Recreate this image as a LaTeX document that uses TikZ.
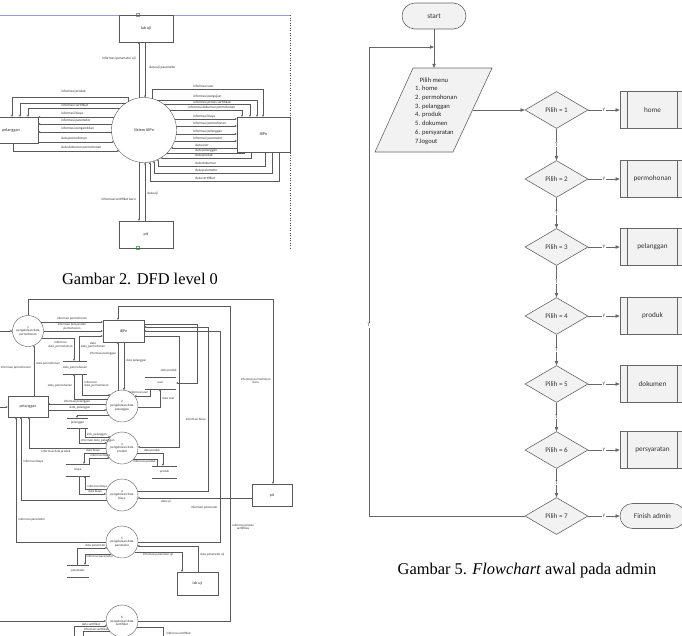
\documentclass[tikz,border=0pt]{standalone}
\usepackage{fontspec}
\setmainfont{Liberation Serif}
\newfontfamily\fcal{Carlito}
\usetikzlibrary{arrows.meta,shapes.geometric}
\begin{document}
\begin{tikzpicture}[x=1pt,y=-1pt,
  ln/.style={draw=black!65,line width=0.35pt},
  ar/.style={ln,-{Triangle[length=1.9pt,width=1.7pt]}},
  lb/.style={font=\fcal\fontsize{3.5}{3.9}\selectfont,text=black!80,inner sep=0.2pt},
  lbs/.style={font=\fcal\fontsize{3.2}{3.6}\selectfont,text=black!80,inner sep=0.2pt},
  ent/.style={draw=black!65,line width=0.4pt,inner sep=0,font=\fcal\fontsize{4.2}{5}\selectfont,text=black!80},
  proc/.style={circle,draw=black!65,line width=0.4pt,inner sep=0,align=center,font=\fcal\fontsize{3.3}{3.8}\selectfont,text=black!80},
  store/.style={inner sep=0,font=\fcal\fontsize{3.2}{4}\selectfont,text=black!80,
    append after command={(\tikzlastnode.north west) edge[ln] (\tikzlastnode.north east)
      (\tikzlastnode.south west) edge[ln] (\tikzlastnode.south east)}},
  fl/.style={draw=black!60,line width=0.6pt},
  fa/.style={fl,-{Triangle[length=4.2pt,width=3.4pt]}},
  term/.style={fl,fill=black!5,rounded corners=13pt,minimum width=64pt,minimum height=26pt,inner sep=0,
    font=\fcal\fontsize{7.2}{8.5}\selectfont,text=black!80},
  dec/.style={diamond,fl,fill=black!5,minimum width=63pt,minimum height=37pt,inner sep=0,aspect=1.7,
    font=\fcal\fontsize{7}{8}\selectfont,text=black!80},
  pp/.style={fl,fill=black!5,minimum width=65pt,minimum height=37pt,inner sep=0,
    font=\fcal\fontsize{7.2}{8.5}\selectfont,text=black!80,
    append after command={([xshift=8pt]\tikzlastnode.north west) edge[fl] ([xshift=8pt]\tikzlastnode.south west)
      ([xshift=-8pt]\tikzlastnode.north east) edge[fl] ([xshift=-8pt]\tikzlastnode.south east)}},
  yt/.style={font=\fcal\fontsize{5.2}{6}\selectfont,fill=white,inner sep=0.8pt,text=black!75},
  mt/.style={font=\fcal\fontsize{6.6}{8}\selectfont,inner sep=0,text=black!85},
  capt/.style={font=\fontsize{16.4}{19}\selectfont}
]
\fill[white] (0,0) rectangle (682,635);
\useasboundingbox (0,0) rectangle (682,635);

% ================= DFD level 0 =================
\draw[draw=blue!30!gray!60,line width=0.6pt] (0,15) -- (291,15);
\draw[draw=black!70,dotted,line width=0.5pt] (290.5,15) -- (290.5,248);
\draw[draw=blue!40!gray!60,line width=0.3pt] (136,13.5) rectangle (139,16.5);
\draw[draw=green!50!black!60,line width=0.3pt] (136,246.5) rectangle (139,249.5);

\node[ent,minimum width=54pt,minimum height=27pt] (lab0) at (146,28.5) {lab uji};
\node[ent,minimum width=54pt,minimum height=26pt] (plg0) at (11,130) {pelanggan};
\node[ent,minimum width=53pt,minimum height=35pt] (ibp0) at (263.5,134.5) {IBPn};
\node[ent,minimum width=54pt,minimum height=27pt] (pit0) at (146,234.5) {pit};
\node[proc,minimum size=65pt,font=\fcal\fontsize{4.2}{5}\selectfont] (sis0) at (144,130) {Sistem IBPn};

% top
\draw[ar] (139,97.9) -- (lab0.south -| 139,0);
\draw[ar] (lab0.south -| 145,0) -- (145,97.5);
\node[lb,anchor=east] at (136,59) {informasi parameter uji};
\node[lb,anchor=west] at (149,68) {data uji parameter};
% left
\draw[ar] (128,101.7) -- (128,97) -- (12,97) -- (plg0.north -| 12,0);
\node[lb,anchor=west] at (61,92) {informasi produk};
\draw[ar] (125.9,103) -- (20,103) -- (plg0.north -| 20,0);
\draw[ar] (120.1,108) -- (28,108) -- (plg0.north -| 28,0);
\node[lb,anchor=west] at (61,105.5) {informasi sertifikat};
\draw[ar] (114.2,117) -- (plg0.east |- 0,117);
\node[lb,anchor=west] at (61,114) {informasi biaya};
\draw[ar] (112.1,124) -- (plg0.east |- 0,124);
\node[lb,anchor=west] at (61,121) {informasi parameter};
\draw[ar] (111.6,132) -- (plg0.east |- 0,132);
\node[lb,anchor=west] at (61,129) {informasi pengambilan};
\draw[ar] (plg0.east |- 0,142) -- (113.8,142);
\node[lb,anchor=west] at (61,139) {data permohonan};
\draw[ar] (plg0.south -| 13,0) -- (13,151) -- (119.2,151);
\node[lb,anchor=west] at (61,148) {data dokumen permohonan};
% right
\draw[ar] (152,98.5) -- (152,89) -- (263,89) -- (ibp0.north -| 263,0);
\node[lb,anchor=west] at (193,86) {informasi user};
\draw[ar] (156.5,100) -- (257,100) -- (ibp0.north -| 257,0);
\node[lb,anchor=west] at (193,97) {informasi pengujian};
\draw[ar] (164.1,104.5) -- (250,104.5) -- (ibp0.north -| 250,0);
\node[lb,anchor=west] at (193,102.2) {informasi proses sertifikasi};
\draw[ar] (169.6,110) -- (242,110) -- (ibp0.north -| 242,0);
\node[lb,anchor=west] at (188,107.6) {informasi dokumen permohonan};
\draw[ar] (174.6,119) -- (ibp0.west |- 0,119);
\node[lb,anchor=west] at (193,116.5) {informasi biaya};
\draw[ar] (176.3,126) -- (ibp0.west |- 0,126);
\node[lb,anchor=west] at (193,123.5) {informasi permohonan};
\draw[ar] (176.3,134) -- (ibp0.west |- 0,134);
\node[lb,anchor=west] at (193,131.5) {informasi pelanggan};
\draw[ar] (174.6,141) -- (ibp0.west |- 0,141);
\node[lb,anchor=west] at (193,138.5) {informasi parameter};
\draw[ar] (ibp0.west |- 0,148) -- (171.1,148);
\node[lb,anchor=west] at (195,145.5) {data user};
\draw[ar] (ibp0.south -| 244,0) -- (244,153.5) -- (166.4,153.5);
\node[lb,anchor=west] at (195,151) {data pelanggan};
\draw[ar] (ibp0.south -| 251,0) -- (251,158) -- (160.5,158);
\node[lb,anchor=west] at (195,155.8) {data produk};
\draw[ar] (ibp0.south -| 265,0) -- (265,166) -- (158,166) -- (158,159.3);
\node[lb,anchor=west] at (195,163.5) {data dokumen};
\draw[ar] (ibp0.south -| 272,0) -- (272,173) -- (154,173) -- (154,160.9);
\node[lb,anchor=west] at (195,170.5) {data parameter};
\draw[ar] (ibp0.south -| 279,0) -- (279,181) -- (150,181) -- (150,161.9);
\node[lb,anchor=west] at (195,178.5) {data sertifikat};
% bottom
\draw[ar] (139,162.1) -- (pit0.north -| 139,0);
\node[lb,anchor=east] at (136,199) {informasi sertifikat baru};
\draw[ar] (pit0.north -| 145,0) -- (145,162.5);
\node[lb,anchor=west] at (147,194) {data uji};

\node[capt] (cap0) at (140,279) {Gambar 2. DFD level 0};

% ================= DFD level 1 =================
\node[proc,minimum size=31pt] (p1) at (28,331) {1\\pengelolaan data\\permohonan};
\node[proc,minimum size=32pt] (p2) at (122,406) {2\\pengelolaan data\\pelanggan};
\node[proc,minimum size=32pt] (p3) at (122,448) {3\\pengelolaan data\\produk};
\node[proc,minimum size=32pt] (p4) at (122,495) {4\\pengelolaan data\\biaya};
\node[proc,minimum size=32pt] (p5) at (122,542) {5\\pengelolaan data\\parameter};
\node[proc,minimum size=32pt] (p6) at (122,621) {6\\pengelolaan data\\sertifikat};
\node[ent,minimum width=41pt,minimum height=22pt,font=\fcal\fontsize{4}{5}\selectfont] (ibp1) at (123.5,331) {IBPn};
\node[ent,minimum width=40pt,minimum height=21pt,font=\fcal\fontsize{4}{5}\selectfont] (plg1) at (28,406.5) {pelanggan};
\node[ent,minimum width=40pt,minimum height=22pt,font=\fcal\fontsize{4}{5}\selectfont] (pit1) at (272,495) {pit};
\node[ent,minimum width=41pt,minimum height=23pt,font=\fcal\fontsize{4}{5}\selectfont] (lab1) at (197.5,583.5) {lab uji};
\node[store,minimum width=24pt,minimum height=13pt] (sperm) at (75,367.5) {data\_permohonan};
\node[store,minimum width=21pt,minimum height=10pt] (spel) at (77.5,423) {pelanggan};
\node[store,minimum width=31pt,minimum height=12pt] (suser) at (160.5,383) {user};
\node[store,minimum width=24pt,minimum height=12pt] (sbiaya) at (78,470) {biaya};
\node[store,minimum width=25pt,minimum height=12pt] (sprod) at (164.5,472) {produk};
\node[store,minimum width=22pt,minimum height=12pt] (sparam) at (78,571) {parameter};

% long frame lines
\draw[ar] (p1.north) -- (28,299) -- (273,299) -- (pit1.north -| 273,0);
\node[lbs,anchor=east,align=center] at (271,381) {informasi permohonan\\baru};
\draw[ar] (p6.east) -- (230,621) -- (230,306) -- (118,306) -- (ibp1.north -| 118,0);
\node[lbs,anchor=west,align=center] at (232,527) {informasi proses\\sertifikasi};
\draw[ar] (-5,621) -- (p6.west);
% process 1
\draw[ar] (-5,331) -- (p1.west);
\draw[ar] (-5,407) -- (plg1.west |- 0,407);
\node[lbs,anchor=west] at (0.5,368) {informasi permohonan};
\draw[ar] (40.6,322) -- (ibp1.west |- 0,322);
\node[lbs] at (72,318.8) {informasi permohonan};
\draw[ar] (p1.east) -- (ibp1.west |- p1.east);
\node[lbs,align=center] at (72,326.6) {informasi persyaratan\\permohonan};
\draw[ar] (41.8,338) -- (74,338) -- (sperm.north -| 74,0);
\node[lbs,anchor=east,align=center] at (73,344.5) {informasi\\data\_permohonan};
\draw[ar] (sperm.north -| 79,0) -- (79,336) -- (ibp1.west |- 0,336);
\node[lbs,anchor=west,align=center] at (80.5,345.2) {data\\data\_permohonan};
\draw[ar] (plg1.north -| 34,0) -- (34,345.3);
\node[lbs,anchor=west] at (36,364) {data permohonan};
% process 2
\draw[ar] (118,390.5) -- (ibp1.south -| 118,0);
\node[lbs,anchor=east] at (116.5,354) {informasi pelanggan};
\draw[ar] (ibp1.south -| 124,0) -- (124,390.1);
\node[lbs,anchor=west] at (126,361) {data pelanggan};
\draw[ar] (107.6,399) -- (74,399) -- (sperm.south -| 74,0);
\node[lbs,anchor=east] at (72.5,386) {data\_permohonan};
\draw[ar] (sperm.south -| 82,0) -- (82,395) -- (110.4,395);
\node[lbs,anchor=west,align=left] at (84,384) {informasi\\data\_permohonan};
\draw[ar] (106.1,404) -- (plg1.east |- 0,404);
\node[lbs] at (77,401.6) {informasi pelanggan};
\draw[ar] (plg1.east |- 0,410) -- (106.5,410);
\node[lbs] at (80,407.3) {data\_pelanggan};
\draw[ar] (108.8,415) -- (77,415) -- (spel.north -| 77,0);
\draw[ar] (spel.south -| 85,0) -- (85,437) -- (110.4,437);
\node[lbs,anchor=south west] at (86.5,436.6) {info\_pelanggan};
\draw[ar] (spel.south -| 79,0) -- (79,443) -- (106.8,443);
\node[lbs,anchor=south west] at (80.5,442.6) {informasi data\_pelanggan};
\draw[ar] (138,407) -- (160,407) -- (suser.south -| 160,0);
\node[lbs,anchor=west] at (162,398) {data user};
\draw[ar] (suser.south -| 150,0) -- (150,396) -- (134.5,396);
\node[lbs,anchor=east] at (148.5,392.5) {informasi user};
\draw[ar] (ibp1.east |- 0,324) -- (197,324) -- (197,383) -- (suser.east);
% process 3
\draw[ar] (ibp1.east |- 0,336) -- (179,336) -- (179,447) -- (138,447);
\node[lbs,anchor=east] at (177,371) {data produk};
\draw[ar] (106,448) -- (29,448) -- (plg1.south -| 29,0);
\node[lbs,anchor=north] at (56,449.4) {informasi data produk};
\draw[ar] (106.8,453) -- (84,453) -- (sbiaya.north -| 84,0);
\node[lbs,anchor=south west] at (86,452.6) {data biaya};
\draw[ar] (sbiaya.north -| 89,0) -- (89,458) -- (109.5,458);
\node[lbs,anchor=south west] at (90,457.6) {informasi biaya};
\draw[ar] (137.2,453) -- (163,453) -- (sprod.north -| 163,0);
\node[lbs,anchor=south] at (152,452.6) {data produk};
\draw[ar] (sprod.north -| 157,0) -- (157,459.5) -- (133.1,459.5);
\node[lbs,anchor=north east] at (156,460.3) {informasi produk};
% process 4
\draw[ar] (106.8,500) -- (21,500) -- (plg1.south -| 21,0);
\node[lbs,anchor=west] at (23,462) {informasi biaya};
\draw[ar] (107.2,489) -- (85,489) -- (sbiaya.south -| 85,0);
\node[lbs,anchor=south west] at (87,488.6) {informasi biaya};
\draw[ar] (sbiaya.south -| 79,0) -- (79,494) -- (106,494);
\node[lbs,anchor=south west] at (88,493.6) {data biaya};
\draw[ar] (pit1.west |- 0,498) -- (137.7,498);
\node[lbs,anchor=north] at (166,499.5) {data uji};
\draw[ar] (137.5,491) -- (208,491) -- (208,327) -- (ibp1.east |- 0,327);
\node[lbs,anchor=east] at (206,420) {informasi biaya};
% process 5
\draw[ar] (p5.west) -- (16,542) -- (plg1.south -| 16,0);
\node[lbs,anchor=west] at (18,520) {informasi parameter};
\draw[ar] (p5.east) -- (220,542) -- (220,331) -- (ibp1.east |- 0,331);
\node[lbs,anchor=east] at (218,508) {informasi parameter};
\draw[ar] (sparam.north -| 77,0) -- (77,548) -- (107.2,548);
\node[lbs,anchor=south west] at (85,547.6) {data parameter};
\draw[ar] (111.4,554) -- (85,554) -- (sparam.north -| 85,0);
\node[lbs,anchor=north west] at (86,555) {informasi parameter};
\draw[ar] (134.5,552) -- (182,552) -- (lab1.north -| 182,0);
\node[lbs,anchor=north] at (158,553) {informasi parameter uji};
\draw[ar] (lab1.north -| 198,0) -- (198,546) -- (137.5,546);
\node[lbs,anchor=west] at (200,555) {data parameter uji};
% process 6
\draw[ar] (74,640) -- (74,626) -- (106.8,626);
\node[lbs,anchor=south] at (91,625.6) {data sertifikat};
\draw[ar] (109.5,631) -- (83,631) -- (83,640);
\node[lbs,anchor=south] at (96,630.6) {informasi sertifikat};
\draw[ar] (136.8,627) -- (163,627) -- (163,640);
\node[lbs,anchor=west] at (166,633) {informasi sertifikat};

% ================= Flowchart =================
\node[term] (start) at (434,16) {start};
\draw[fl,fill=black!5] (413,68) -- (492,68) -- (453,152) -- (375,152) -- cycle;
\coordinate (menuN) at (434,68);
\coordinate (menuE) at (472.5,110);
\node[mt,anchor=base] (mh) at (434,82.3) {Pilih menu};
\foreach \t [count=\i] in {1. home,2. permohonan,3. pelanggan,4. produk,5. dokumen,6. persyaratan,7.logout}
  \node[mt,anchor=base west] (m\i) at (415,{90.3+8.85*(\i-1)}) {\t};

\foreach \i/\y in {1/110,2/179,3/247,4/316,5/384,6/450,7/516}
  \node[dec] (d\i) at (556.5,\y) {Pilih = \i};
\foreach \i/\y/\t in {1/110/home,2/179/permohonan,3/247/pelanggan,4/316/produk,5/384/dokumen,6/450/persyaratan}
  \node[pp] (b\i) at (652.5,\y) {\t};
\node[term,minimum width=65pt,minimum height=25pt,rounded corners=12.5pt] (fin) at (652.5,516) {Finish admin};

\draw[fa] (start.south) -- (menuN);
\draw[fa] (menuE) -- (d1.west);
\foreach \i [evaluate=\i as \j using int(\i+1)] in {1,...,6}
  \draw[fa] (d\i.south) -- node[yt]{T} (d\j.north);
\foreach \i in {1,...,6}
  \draw[fa] (d\i.east) -- node[yt]{Y} (b\i.west);
\draw[fa] (d7.east) -- node[yt]{Y} (fin.west);
\draw[fa] (d7.west) -- (369,516) -- node[yt,pos=0.407]{T} (369,47) -- (start.south |- 0,47);

\node[capt] (cap5) at (527,571) {Gambar 5. \textit{Flowchart} awal pada admin};
\end{tikzpicture}
\end{document}
